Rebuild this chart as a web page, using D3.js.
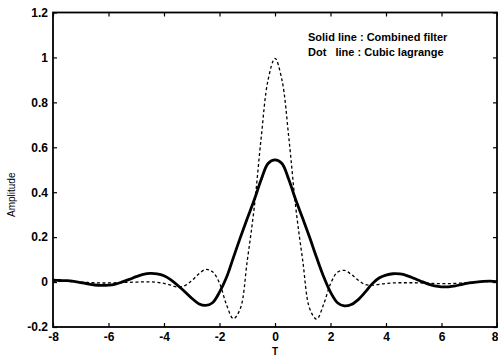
<!DOCTYPE html>
<html>
<head>
<meta charset="utf-8">
<script src="https://cdn.jsdelivr.net/npm/d3@7/dist/d3.min.js"></script>
<style>
  html, body { margin: 0; padding: 0; background: #fff; }
  svg { display: block; }
  text { font-family: Arial, "Liberation Sans", Helvetica, sans-serif; fill: #000; }
</style>
</head>
<body>
<svg id="chart" width="498" height="357"></svg>
<script>
// Sample positions (T) shared by both impulse responses, step 0.25 from -8 to 8
const tValues = d3.range(-8, 8.0001, 0.25);

// Combined filter impulse response (solid line)
const combinedFilter = [
  0.008, 0.007, 0.006, 0.003, -0.002, -0.008, -0.013, -0.015,
  -0.014, -0.009, 0.001, 0.012, 0.024, 0.034, 0.039, 0.037,
  0.028, 0.010, -0.015, -0.043, -0.072, -0.096, -0.104, -0.092,
  -0.045, 0.020, 0.109, 0.198, 0.283, 0.365, 0.455, 0.528,
  0.544,
  0.528, 0.455, 0.365, 0.283, 0.198, 0.109, 0.025, -0.045,
  -0.092, -0.106, -0.100, -0.078, -0.045, -0.008, 0.018, 0.031,
  0.037, 0.036, 0.029, 0.017, 0.004, -0.008, -0.017, -0.021,
  -0.021, -0.017, -0.010, -0.004, 0.000, 0.003, 0.004, 0.002
];

// Cubic Lagrange interpolator impulse response (dotted line)
const cubicLagrange = [
  0.004, 0.004, 0.003, 0.002, 0.000, -0.002, -0.003, -0.004,
  -0.004, -0.003, -0.002, -0.001, 0.000, 0.001, 0.001, -0.001,
  -0.006, -0.014, -0.022, -0.016, 0.006, 0.036, 0.056, 0.046,
  -0.004, -0.100, -0.163, -0.118, 0.095, 0.330, 0.640, 0.900,
  0.996,
  0.900, 0.640, 0.330, 0.095, -0.118, -0.165, -0.100, -0.008,
  0.044, 0.052, 0.034, 0.008, -0.011, -0.014, -0.010, -0.006,
  -0.004, -0.003, -0.003, -0.003, -0.004, -0.005, -0.006, -0.007,
  -0.007, -0.006, -0.004, -0.002, 0.000, 0.002, 0.003, 0.002
];

// Tick values and labels
const xTicks = [-8, -6, -4, -2, 0, 2, 4, 6, 8];
const xTickLabels = ["-8", "-6", "-4", "-2", "0", "2", "4", "6", "8"];
const yTicks = [-0.2, 0, 0.2, 0.4, 0.6, 0.8, 1, 1.2];
const yTickLabels = ["-0.2", "0", "0.2", "0.4", "0.6", "0.8", "1", "1.2"];

const legendLines = ["Solid line : Combined filter", "Dot   line : Cubic lagrange"];

const svg = d3.select("#chart");
const plotLeft = 53, plotRight = 497, plotTop = 12.5, plotBottom = 327;

const x = d3.scaleLinear().domain([-8, 8]).range([plotLeft, plotRight]);
const y = d3.scaleLinear().domain([-0.2, 1.2]).range([plotBottom, plotTop]);

const fontSize = 12;

// Axes with inward ticks on all four sides
const bottomAxis = d3.axisBottom(x).tickValues(xTicks)
  .tickFormat((d, i) => xTickLabels[i]).tickSizeInner(-4).tickSizeOuter(0).tickPadding(5);
const topAxis = d3.axisTop(x).tickValues(xTicks)
  .tickFormat("").tickSizeInner(-4).tickSizeOuter(0);
const leftAxis = d3.axisLeft(y).tickValues(yTicks)
  .tickFormat((d, i) => yTickLabels[i]).tickSizeInner(-4).tickSizeOuter(0).tickPadding(5);
const rightAxis = d3.axisRight(y).tickValues(yTicks)
  .tickFormat("").tickSizeInner(-4).tickSizeOuter(0);

function styleAxis(g) {
  g.select(".domain").remove();
  g.selectAll(".tick line").attr("stroke", "#000").attr("stroke-width", 1.2);
  g.selectAll(".tick text").attr("font-size", fontSize).attr("font-weight", "bold")
    .attr("font-family", "Arial, 'Liberation Sans', sans-serif").attr("fill", "#000");
}

const gBottom = svg.append("g").attr("transform", `translate(0,${plotBottom})`).call(bottomAxis).call(styleAxis);
// keep the last label inside the page edge
gBottom.selectAll(".tick text").filter(d => d === 8).attr("text-anchor", "end").attr("x", 1);
svg.append("g").attr("transform", `translate(0,${plotTop})`).call(topAxis).call(styleAxis);
svg.append("g").attr("transform", `translate(${plotLeft},0)`).call(leftAxis).call(styleAxis);
svg.append("g").attr("transform", `translate(${plotRight},0)`).call(rightAxis).call(styleAxis);

// Plot frame
svg.append("rect")
  .attr("x", plotLeft).attr("y", plotTop)
  .attr("width", plotRight - plotLeft).attr("height", plotBottom - plotTop)
  .attr("fill", "none").attr("stroke", "#000").attr("stroke-width", 1.8);

// Curves
const line = d3.line().curve(d3.curveCatmullRom.alpha(0.5))
  .x((d, i) => x(tValues[i])).y(d => y(d));

svg.append("path").datum(cubicLagrange)
  .attr("d", line).attr("fill", "none").attr("stroke", "#000")
  .attr("stroke-width", 1.3).attr("stroke-dasharray", "3,2.5");

svg.append("path").datum(combinedFilter)
  .attr("d", line).attr("fill", "none").attr("stroke", "#000")
  .attr("stroke-width", 2.8).attr("stroke-linejoin", "round");

// Axis titles
svg.append("text").attr("x", x(0)).attr("y", 355)
  .attr("text-anchor", "middle").attr("font-size", 10).attr("font-weight", "bold").text("T");

svg.append("text")
  .attr("transform", `translate(15,${(plotTop + plotBottom) / 2 + 25}) rotate(-90)`)
  .attr("text-anchor", "middle").attr("font-size", 10).text("Amplitude");

// Legend text
const legend = svg.append("g");
legend.selectAll("text").data(legendLines).join("text")
  .attr("x", 308).attr("y", (d, i) => 41 + i * 15)
  .attr("font-size", 11).attr("font-weight", "bold")
  .style("white-space", "pre")
  .text(d => d);
</script>
</body>
</html>
